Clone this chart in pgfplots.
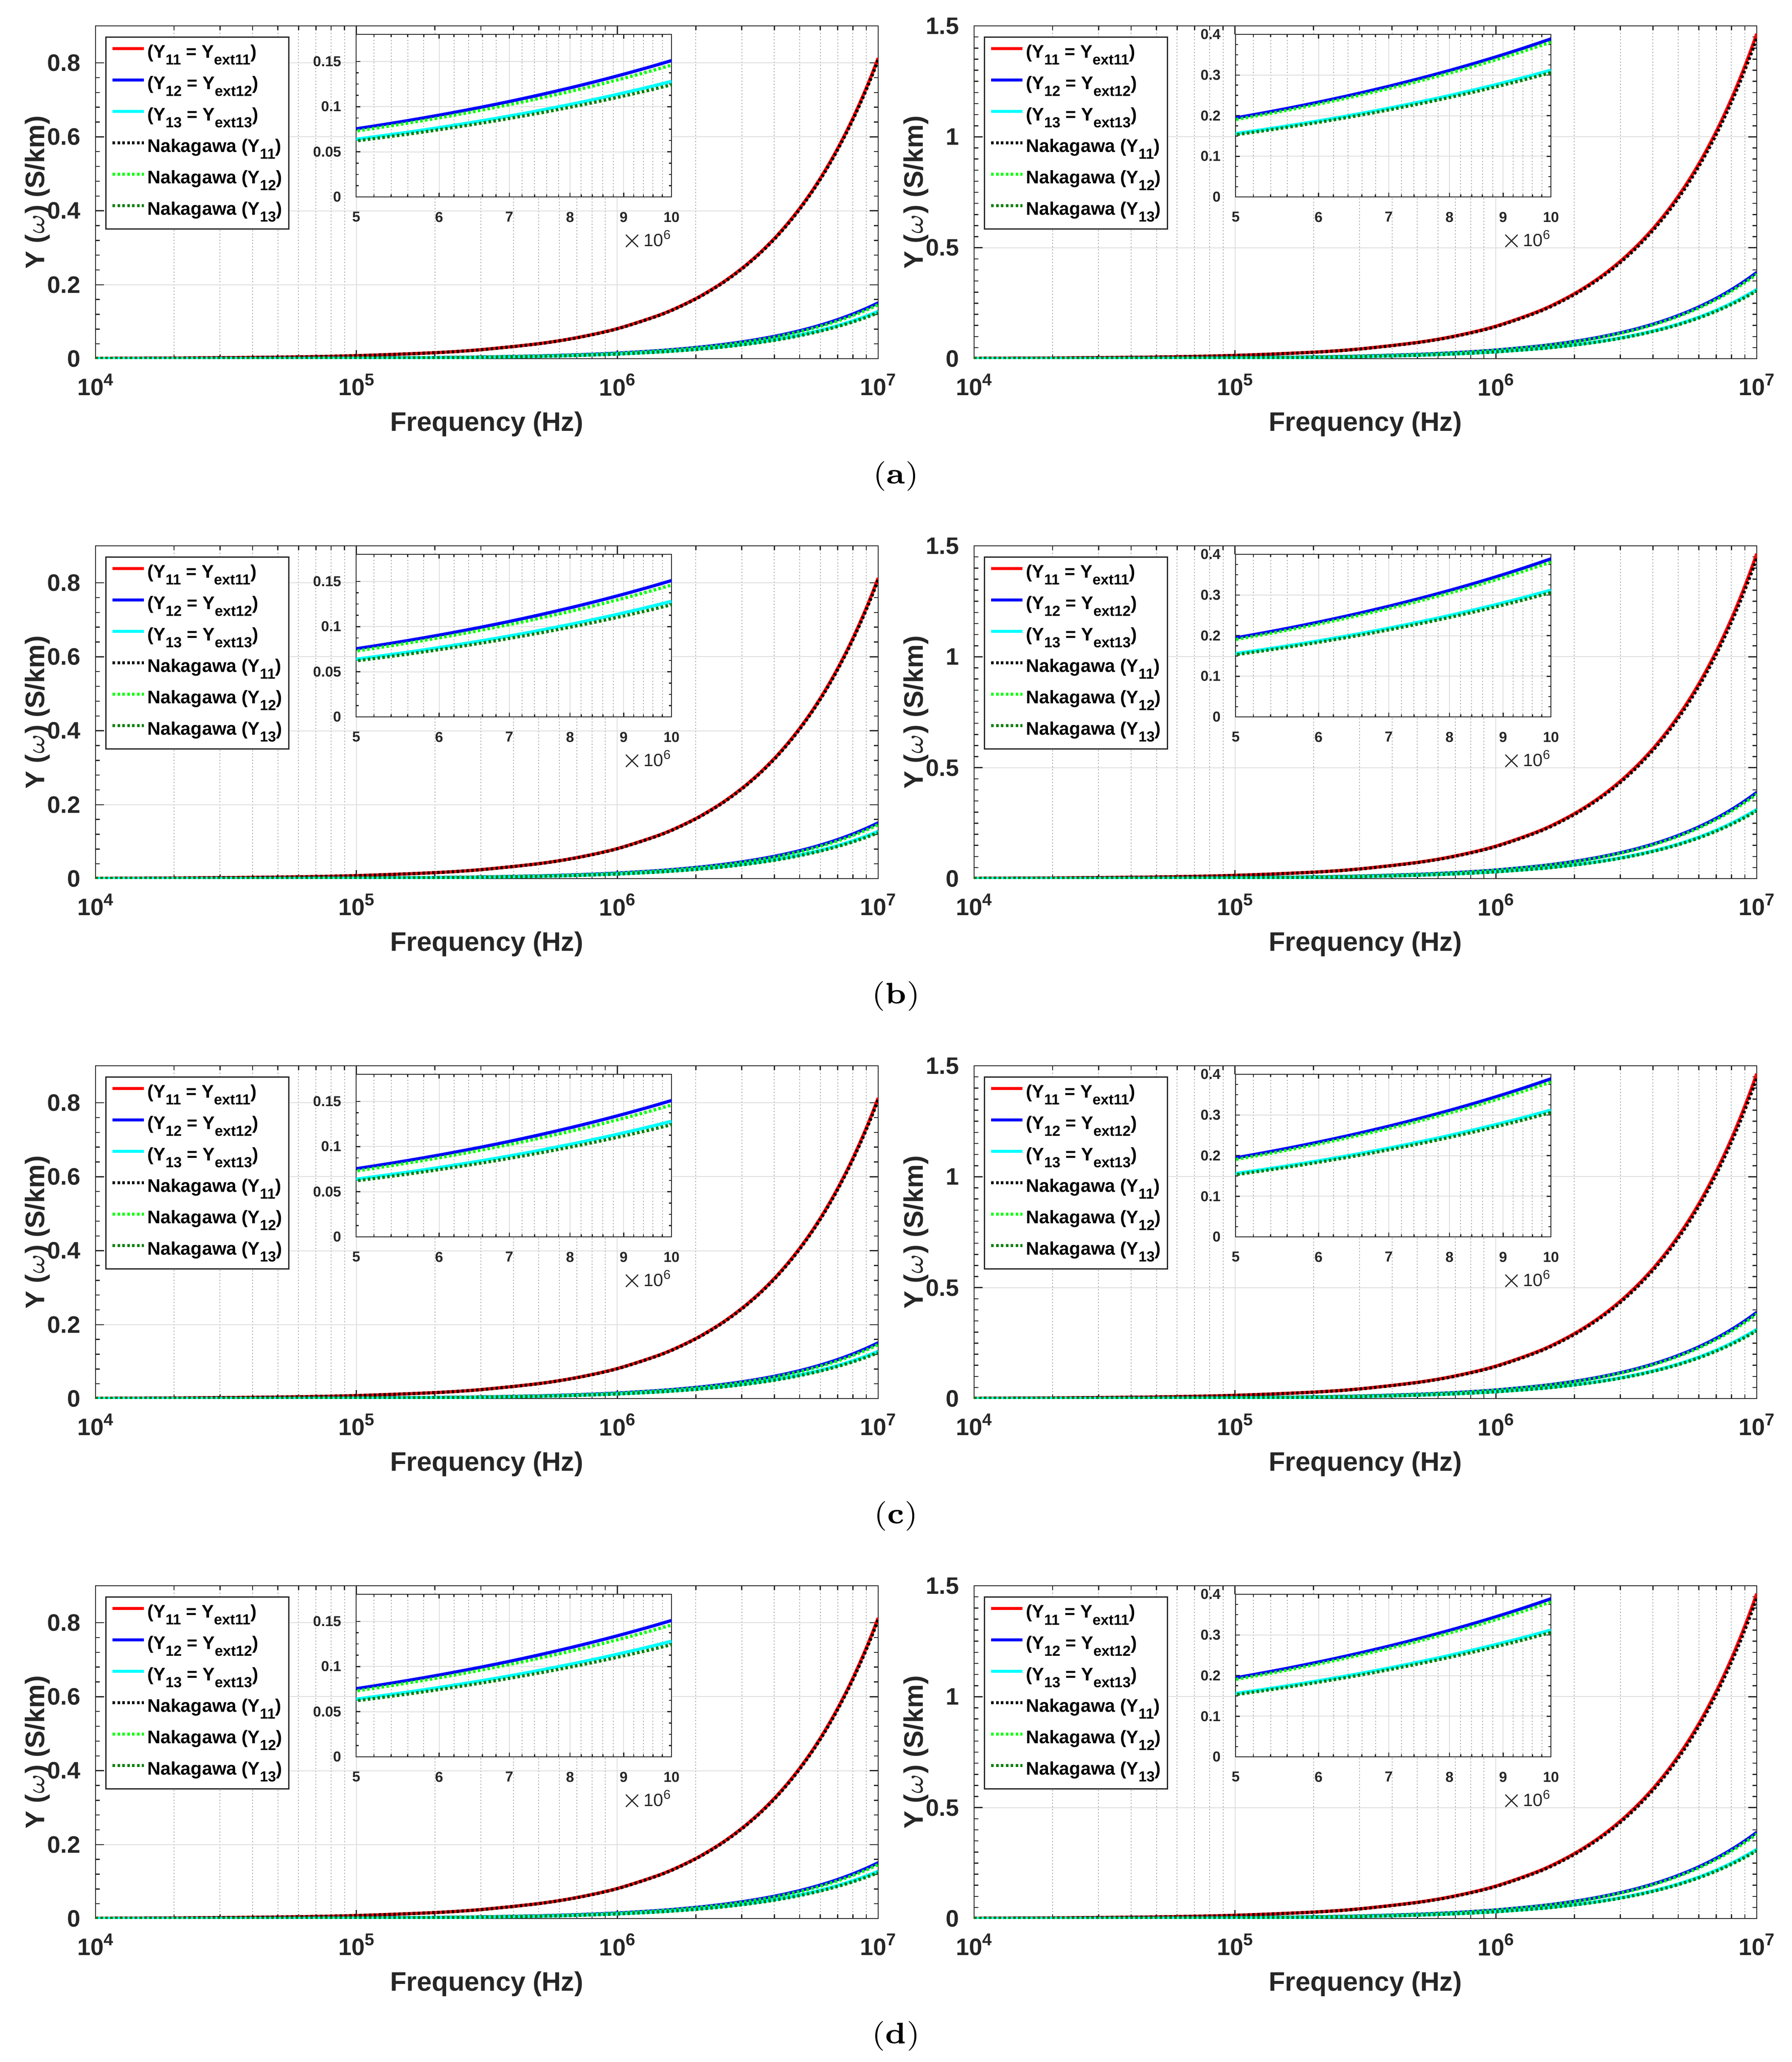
\documentclass[border=0pt]{standalone}
\usepackage{fontspec}
\usepackage{pgfplots}
\usepackage{pgfplotstable}
\pgfplotsset{compat=1.18}
\newfontfamily\sansb{Liberation Sans}

\definecolor{axgray}{RGB}{38,38,38}
\definecolor{gmaj}{RGB}{222,222,222}
\definecolor{gmin}{RGB}{175,175,175}
\definecolor{cred}{RGB}{255,0,0}
\definecolor{cblue}{RGB}{0,0,255}
\definecolor{ccyan}{RGB}{0,255,255}
\definecolor{ngreen}{RGB}{0,255,0}
\definecolor{dgreen}{RGB}{0,128,0}

\newcommand{\ftick}{\sansb\bfseries\fontsize{5.6pt}{6.7pt}\selectfont}
\newcommand{\flab}{\sansb\bfseries\fontsize{6.3pt}{7.5pt}\selectfont}
\newcommand{\fleg}{\sansb\bfseries\fontsize{4.3pt}{5.2pt}\selectfont}
\newcommand{\fin}{\sansb\bfseries\fontsize{3.4pt}{4.1pt}\selectfont}
\newcommand{\fmul}{\sansb\fontsize{4.2pt}{5pt}\selectfont}
% raised / lowered small text, kept out of math mode
\newcommand{\up}[1]{\raisebox{0.42em}{\fontsize{0.72em}{0.8em}\selectfont #1}}
\newcommand{\dn}[1]{\raisebox{-0.38em}{\fontsize{0.8em}{0.9em}\selectfont #1}}

% f (Hz), solid = proposed, N = Nakagawa
\pgfplotstableread{
f      Y11      Y12      Y13      N11      N12      N13
1e4    0.000813 0.000151 0.000128 0.000808 0.000146 0.000124
2e4    0.001626 0.000302 0.000256 0.001616 0.000292 0.000248
5e4    0.004065 0.000755 0.00064  0.00404  0.00073  0.000621
1e5    0.00813  0.00151  0.00128  0.00808  0.00146  0.001242
2e5    0.01626  0.00302  0.00256  0.01616  0.00292  0.002484
3e5    0.02439  0.00453  0.00384  0.02424  0.00438  0.003726
5e5    0.04065  0.00755  0.0064   0.0404   0.0073   0.00621
7e5    0.05691  0.01057  0.00896  0.05656  0.01022  0.008694
1e6    0.0813   0.0151   0.0128   0.0808   0.0146   0.01242
1.5e6  0.12195  0.02265  0.0192   0.1212   0.0219   0.01863
2e6    0.1626   0.0302   0.0256   0.1616   0.0292   0.02484
2.5e6  0.20325  0.03775  0.032    0.202    0.0365   0.03105
3e6    0.2439   0.0453   0.0384   0.2424   0.0438   0.03726
3.5e6  0.28455  0.05285  0.0448   0.2828   0.0511   0.04347
4e6    0.3252   0.0604   0.0512   0.3232   0.0584   0.04968
4.5e6  0.36585  0.06795  0.0576   0.3636   0.0657   0.05589
5e6    0.4065   0.0755   0.064    0.404    0.073    0.0621
5.5e6  0.44715  0.08305  0.0704   0.4444   0.0803   0.06831
6e6    0.4878   0.0906   0.0768   0.4848   0.0876   0.07452
6.5e6  0.52845  0.09815  0.0832   0.5252   0.0949   0.08073
7e6    0.5691   0.1057   0.0896   0.5656   0.1022   0.08694
7.5e6  0.60975  0.11325  0.096    0.606    0.1095   0.09315
8e6    0.6504   0.1208   0.1024   0.6464   0.1168   0.09936
8.5e6  0.69105  0.12835  0.1088   0.6868   0.1241   0.10557
9e6    0.7317   0.1359   0.1152   0.7272   0.1314   0.11178
9.5e6  0.77235  0.14345  0.1216   0.7676   0.1387   0.11799
1e7    0.813    0.151    0.128    0.808    0.146    0.1242
}\tabL

\pgfplotstableread{
f      Y11      Y12      Y13      N11      N12      N13
1e4    0.001465 0.000389 0.000312 0.001445 0.000381 0.000306
2e4    0.00293  0.000778 0.000624 0.00289  0.000762 0.000612
5e4    0.007325 0.001945 0.00156  0.007225 0.001905 0.00153
1e5    0.01465  0.00389  0.00312  0.01445  0.00381  0.00306
2e5    0.0293   0.00778  0.00624  0.0289   0.00762  0.00612
3e5    0.04395  0.01167  0.00936  0.04335  0.01143  0.00918
5e5    0.07325  0.01945  0.0156   0.07225  0.01905  0.0153
7e5    0.10255  0.02723  0.02184  0.10115  0.02667  0.02142
1e6    0.1465   0.0389   0.0312   0.1445   0.0381   0.0306
1.5e6  0.21975  0.05835  0.0468   0.21675  0.05715  0.0459
2e6    0.293    0.0778   0.0624   0.289    0.0762   0.0612
2.5e6  0.36625  0.09725  0.078    0.36125  0.09525  0.0765
3e6    0.4395   0.1167   0.0936   0.4335   0.1143   0.0918
3.5e6  0.51275  0.13615  0.1092   0.50575  0.13335  0.1071
4e6    0.586    0.1556   0.1248   0.578    0.1524   0.1224
4.5e6  0.65925  0.17505  0.1404   0.65025  0.17145  0.1377
5e6    0.7325   0.1945   0.156    0.7225   0.1905   0.153
5.5e6  0.80575  0.21395  0.1716   0.79475  0.20955  0.1683
6e6    0.879    0.2334   0.1872   0.867    0.2286   0.1836
6.5e6  0.95225  0.25285  0.2028   0.93925  0.24765  0.1989
7e6    1.0255   0.2723   0.2184   1.0115   0.2667   0.2142
7.5e6  1.09875  0.29175  0.234    1.08375  0.28575  0.2295
8e6    1.172    0.3112   0.2496   1.156    0.3048   0.2448
8.5e6  1.24525  0.33065  0.2652   1.22825  0.32385  0.2601
9e6    1.3185   0.3501   0.2808   1.3005   0.3429   0.2754
9.5e6  1.39175  0.36955  0.2964   1.37275  0.36195  0.2907
1e7    1.465    0.389    0.312    1.445    0.381    0.306
}\tabR

\pgfplotsset{
  s1/.style={cred, line width=0.75pt, smooth},
  s2/.style={cblue, line width=0.75pt, smooth},
  s3/.style={ccyan, line width=0.75pt, smooth},
  d1/.style={black, line width=0.75pt, smooth, dash pattern=on 0.6pt off 0.55pt},
  d2/.style={ngreen, line width=0.75pt, smooth, dash pattern=on 0.6pt off 0.55pt},
  d3/.style={dgreen, line width=0.75pt, smooth, dash pattern=on 0.6pt off 0.55pt},
}

\newcommand{\plotsix}[1]{%
  \addplot[s1] table[x=f,y=Y11]{#1};
  \addplot[s2] table[x=f,y=Y12]{#1};
  \addplot[s3] table[x=f,y=Y13]{#1};
  \addplot[d1] table[x=f,y=N11]{#1};
  \addplot[d2] table[x=f,y=N12]{#1};
  \addplot[d3] table[x=f,y=N13]{#1};
}
\newcommand{\legsix}{%
  \addlegendentry{(Y\dn{11} = Y\dn{ext11})}
  \addlegendentry{(Y\dn{12} = Y\dn{ext12})}
  \addlegendentry{(Y\dn{13} = Y\dn{ext13})}
  \addlegendentry{Nakagawa (Y\dn{11})}
  \addlegendentry{Nakagawa (Y\dn{12})}
  \addlegendentry{Nakagawa (Y\dn{13})}}

% main axis: #1 = x of left edge, #2 = top edge, #3 = table, #4 = extra y options
\newcommand{\mainpanel}[4]{%
  \begin{axis}[
    scale only axis, anchor=north west,
    xmode=log, log basis x=10, ymin=0,
    axis line style={axgray, line width=0.25pt},
    tick style={axgray, line width=0.25pt},
    xmajorgrids, ymajorgrids, xminorgrids,
    major grid style={solid, gmaj, line width=0.2pt},
    minor grid style={gmin, line width=0.2pt, dash pattern=on 0.3pt off 0.45pt},
    at={(#1pt,#2pt)},
    width=184.4pt, height=78.4pt, xmin=1e4, xmax=1e7,
    xtick={1e4,1e5,1e6,1e7},
    xticklabels={10\up{4},10\up{5},10\up{6},10\up{7}},
    minor xtick={2e4,3e4,4e4,5e4,6e4,7e4,8e4,9e4,2e5,3e5,4e5,5e5,6e5,7e5,8e5,9e5,2e6,3e6,4e6,5e6,6e6,7e6,8e6,9e6},
    major tick length=2pt, minor tick length=1pt,
    ticklabel style={font=\ftick, text=axgray},
    xlabel={Frequency (Hz)}, ylabel={Y ($\omega$) (S/km)},
    label style={font=\flab, text=axgray},
    xlabel style={at={(axis description cs:0.5,-0.196)}, anchor=center},
    ylabel style={at={(axis description cs:-0.0743,0.5)}, anchor=center},
    legend cell align=left,
    legend style={at={(0.0125,0.968)}, anchor=north west, draw=axgray, line width=0.3pt,
      fill=white, inner xsep=1.2pt, inner ysep=1.5pt, row sep=2.2pt, font=\fleg,
      nodes={inner xsep=0.4pt, inner ysep=0pt, text height=3.4pt, text depth=1.8pt}},
    legend image code/.code={\draw[##1] (0pt,1.4pt) -- (7.4pt,1.4pt);},
    #4]
    \plotsix{#3}
    \legsix
  \end{axis}}

% inset axis: #1 = x of left edge, #2 = top edge, #3 = table, #4 = extra y options
\newcommand{\insetpanel}[4]{%
  \begin{axis}[
    scale only axis, anchor=north west,
    xmode=log, log basis x=10, ymin=0,
    axis line style={axgray, line width=0.25pt},
    tick style={axgray, line width=0.25pt},
    xmajorgrids, ymajorgrids, xminorgrids,
    major grid style={solid, gmaj, line width=0.2pt},
    minor grid style={gmin, line width=0.2pt, dash pattern=on 0.3pt off 0.45pt},
    at={(#1pt,#2pt)},
    width=74.3pt, height=38.3pt, xmin=5e6, xmax=1e7,
    xtick={5e6,6e6,7e6,8e6,9e6,1e7}, xticklabels={5,6,7,8,9,10},
    minor xtick={5.2e6,5.4e6,5.6e6,5.8e6,6.2e6,6.4e6,6.6e6,6.8e6,7.2e6,7.4e6,7.6e6,7.8e6,8.2e6,8.4e6,8.6e6,8.8e6,9.2e6,9.4e6,9.6e6,9.8e6},
    major tick length=1pt, minor tick length=0.6pt,
    ticklabel style={font=\fin, text=axgray},
    axis background/.style={fill=white},
    #4]
    \plotsix{#3}
  \end{axis}
  \node[font=\fmul, text=axgray, anchor=north east, inner sep=0pt]
    at (#1pt+74.3pt,#2pt-38.3pt-7.6pt) {$\times$10\up{6}};}

% #1 = top edge of the row (pt), #2 = caption letter
\newcommand{\panelrow}[2]{%
  \mainpanel{22.5}{#1}{\tabL}{ymax=0.9, ytick={0,0.2,0.4,0.6,0.8},
    yticklabels={0,0.2,0.4,0.6,0.8}, minor y tick num=4}
  \insetpanel{83.9}{#1-2}{\tabL}{ymax=0.18, ytick={0,0.05,0.1,0.15},
    yticklabels={0,0.05,0.1,0.15}, minor y tick num=3}
  \mainpanel{229.5}{#1}{\tabR}{ymax=1.5, ytick={0,0.5,1,1.5},
    yticklabels={0,0.5,1,1.5}, minor y tick num=9}
  \insetpanel{291.1}{#1-2}{\tabR}{ymax=0.4, ytick={0,0.1,0.2,0.3,0.4},
    yticklabels={0,0.1,0.2,0.3,0.4}, minor y tick num=3}
  \node[font=\fontsize{7pt}{8pt}\selectfont] at (211.1pt,#1pt-106.1pt) {(\textbf{#2})};
}

\begin{document}
\begin{tikzpicture}
\path[use as bounding box] (0,0) rectangle (422.2pt,-485.8pt);
\panelrow{-6.1}{a}
\panelrow{-128.6}{b}
\panelrow{-251.1}{c}
\panelrow{-373.6}{d}
\end{tikzpicture}
\end{document}
